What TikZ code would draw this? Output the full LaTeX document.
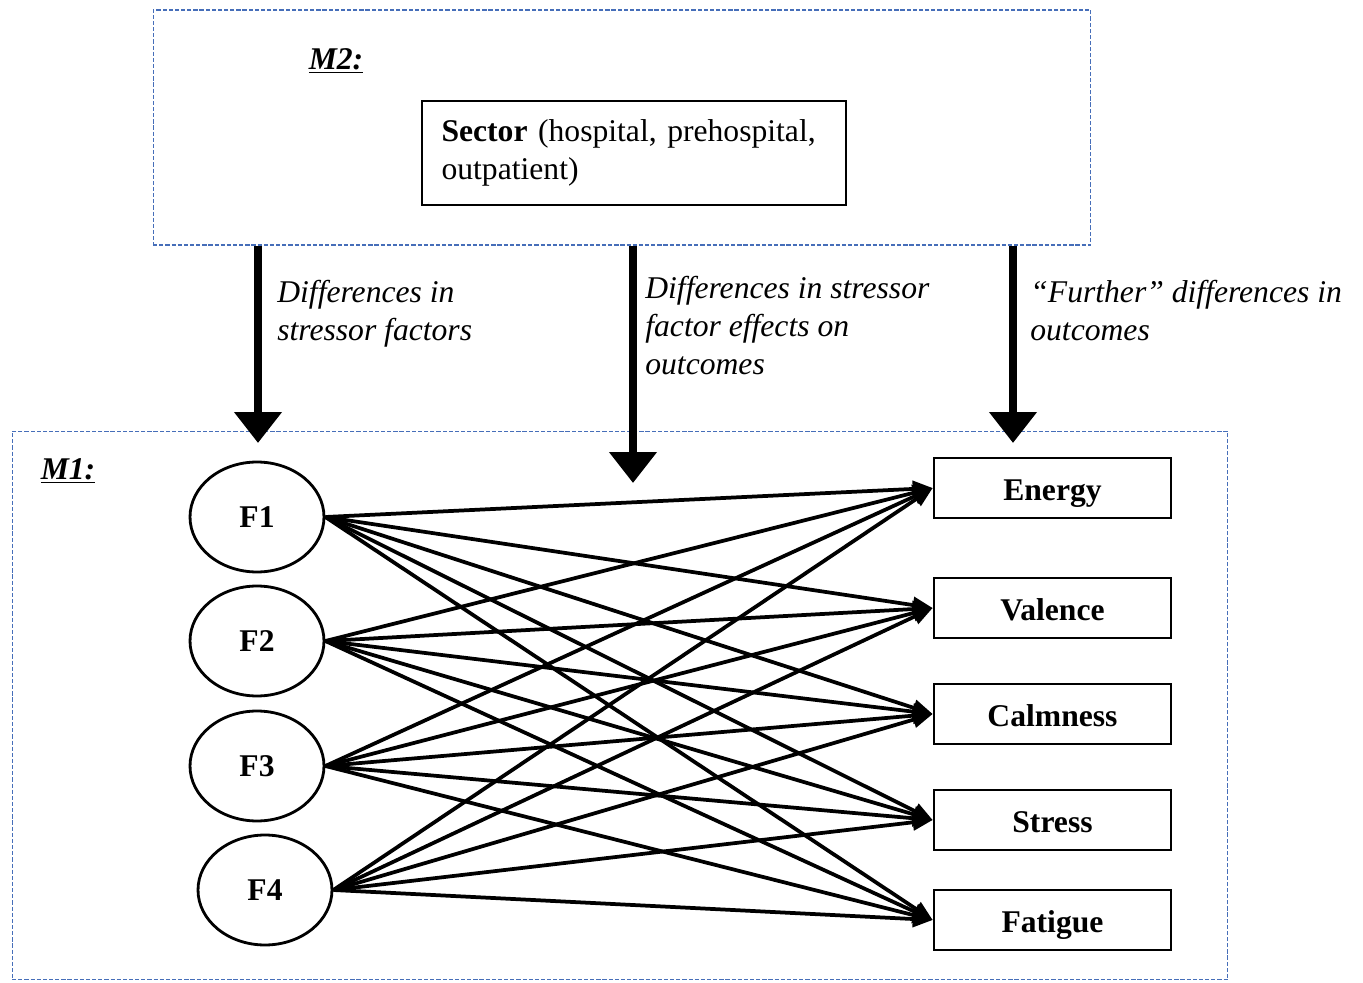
\documentclass[tikz,border=0pt]{standalone}
\usepackage{fontspec}
\setmainfont{Liberation Serif}
\usetikzlibrary{arrows.meta,shapes.geometric}
\definecolor{bordo}{RGB}{70,110,185}
\tikzset{
  dashbox/.style={draw=bordo, dash pattern=on 2.4pt off 1.1pt, line width=0.6pt, inner sep=0pt},
  fattore/.style={draw, ellipse, line width=1.6pt, minimum width=2.68cm, minimum height=2.2cm, inner sep=0pt, font=\fontsize{18}{21}\selectfont\bfseries},
  esito/.style={draw, rectangle, line width=1.5pt, minimum width=4.74cm, minimum height=1.2cm, text height=14pt, text depth=0pt, font=\fontsize{18}{21}\selectfont\bfseries},
  freccia/.style={line width=0.16cm, -{Triangle[length=0.62cm,width=0.92cm]}},
  legame/.style={line width=0.075cm, -{Triangle[length=0.4cm,width=0.32cm]}},
  nota/.style={anchor=north west, align=left, inner sep=0pt, font=\fontsize{18}{21.5}\selectfont\itshape},
  titolo/.style={font=\fontsize{18}{21}\selectfont\bfseries\itshape}
}
\begin{document}
\begin{tikzpicture}[x=0.02cm, y=-0.02cm]
        \useasboundingbox (0,0) rectangle (1363,983);
        % Riquadri M2 e M1
        \node[dashbox, minimum width=18.76cm, minimum height=4.7cm] (m2) at (622,127.5) {};
        \node[dashbox, minimum width=24.32cm, minimum height=10.98cm] (m1) at (620,705.5) {};
        \node[titolo] (lm2) at (336,61) {\underline{M2:}};
        \node[titolo] (lm1) at (68,471) {\underline{M1:}};
        \node[draw, line width=0.8pt, minimum width=8.48cm, minimum height=2.08cm, text width=7.7cm, align=left,
              font=\fontsize{18}{21.5}\selectfont] (sector) at (634,153)
              {\textbf{Sector} (hospital, prehospital,\\ outpatient)};
        % Fattori
        \node[fattore] (f1) at (257,517) {F1};
        \node[fattore] (f2) at (257,641) {F2};
        \node[fattore] (f3) at (257,766) {F3};
        \node[fattore] (f4) at (265,890) {F4};
        % Esiti
        \node[esito] (energy)   at (1052.5,488) {Energy};
        \node[esito] (valence)  at (1052.5,608) {Valence};
        \node[esito] (calmness) at (1052.5,714) {Calmness};
        \node[esito] (stress)   at (1052.5,820) {Stress};
        \node[esito] (fatigue)  at (1052.5,920) {Fatigue};
        % Frecce dal moderatore
        \coordinate (p1) at (258,443);
        \coordinate (p2) at (633,483);
        \coordinate (p3) at (1013,443);
        \draw[freccia] (m2.south -| p1) -- (p1);
        \draw[freccia] (m2.south -| p2) -- (p2);
        \draw[freccia] (m2.south -| p3) -- (p3);
        \node[nota] (n1) at (277,280) {Differences in\\stressor factors};
        \node[nota] (n2) at (645,276) {Differences in stressor\\factor effects on\\outcomes};
        \node[nota] (n3) at (1030,280) {``Further'' differences in\\outcomes};
        % Legami fattori -> esiti
        \foreach \f in {f1,f2,f3,f4}
          \foreach \o in {energy,valence,calmness,stress,fatigue}
            \draw[legame] (\f.east) -- (\o.west);
\end{tikzpicture}
\end{document}
